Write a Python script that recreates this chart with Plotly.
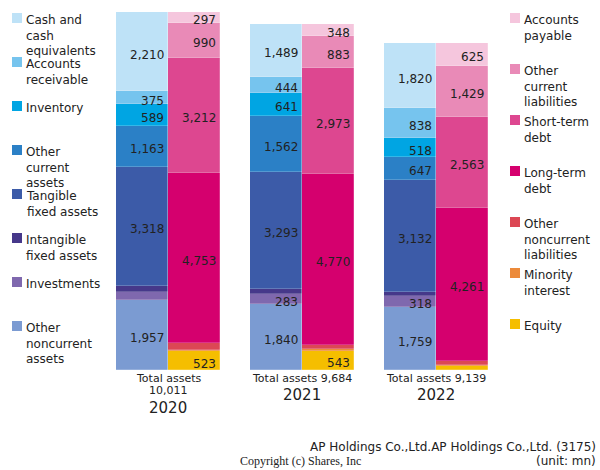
import plotly.graph_objects as go

years = ["2020", "2021", "2022"]
total_assets = [10011, 9684, 9139]

# Assets (bottom -> top)
asset_names = ["Other<br>noncurrent<br>assets", "Investments", "Intangible<br>fixed assets",
               "Tangible<br>fixed assets", "Other<br>current<br>assets", "Inventory",
               "Accounts<br>receivable", "Cash and<br>cash<br>equivalents"]
other_noncurrent_assets = [1957, 1840, 1759]
investments = [221, 283, 318]
intangible_fixed_assets = [178, 132, 107]
tangible_fixed_assets = [3318, 3293, 3132]
other_current_assets = [1163, 1562, 647]
inventory = [589, 641, 518]
accounts_receivable = [375, 444, 838]
cash = [2210, 1489, 1820]
asset_values = [other_noncurrent_assets, investments, intangible_fixed_assets,
                tangible_fixed_assets, other_current_assets, inventory,
                accounts_receivable, cash]
asset_colors = ["#7B9BD2", "#7F68AE", "#46388A", "#3C5BA8", "#2B80C6", "#00A5E3",
                "#76C4EE", "#BEE2F7"]

# Liabilities & equity (bottom -> top)
liab_names = ["Equity", "Minority<br>interest", "Other<br>noncurrent<br>liabilities",
              "Long-term<br>debt", "Short-term<br>debt", "Other<br>current<br>liabilities",
              "Accounts<br>payable"]
equity = [523, 543, 116]
minority_interest = [36, 37, 35]
other_noncurrent_liab = [200, 130, 110]
long_term_debt = [4753, 4770, 4261]
short_term_debt = [3212, 2973, 2563]
other_current_liab = [990, 883, 1429]
accounts_payable = [297, 348, 625]
liab_values = [equity, minority_interest, other_noncurrent_liab, long_term_debt,
               short_term_debt, other_current_liab, accounts_payable]
liab_colors = ["#F5BE00", "#EC8A3A", "#DC4754", "#D5006E", "#DD4790", "#E98AB7", "#F5C6DD"]

W = 600
H = 470
ML, MR, MT, MB = 101, 97, 0, 100
PW = W - ML - MR
PH = H - MT - MB
YMAX = 10347

BW = 0.388
off = BW / 2
xs = list(range(len(years)))

fig = go.Figure()
for name, vals, col in zip(asset_names, asset_values, asset_colors):
    fig.add_trace(go.Bar(x=[i - off for i in xs], y=vals, width=BW, name=name,
                         marker=dict(color=col, line=dict(width=0.4, color="rgba(255,255,255,0.5)")),
                         showlegend=False, hoverinfo="y"))
for name, vals, col in zip(liab_names, liab_values, liab_colors):
    fig.add_trace(go.Bar(x=[i + off for i in xs], y=vals, width=BW, name=name,
                         marker=dict(color=col, line=dict(width=0.4, color="rgba(255,255,255,0.5)")),
                         showlegend=False, hoverinfo="y"))

annotations = []
THRESH = 250

def add_labels(groups, xoff):
    for i in xs:
        cum = 0
        for vals in groups:
            v = vals[i]
            if v >= THRESH:
                annotations.append(dict(x=i + xoff + off, y=cum + v / 2, xref="x", yref="y",
                                        text=f"{v:,}", showarrow=False, xanchor="right",
                                        yanchor="middle", xshift=-2, yshift=-3,
                                        font=dict(size=12, color="#222", family="DejaVu Sans")))
            cum += v

add_labels(asset_values, -off)
add_labels(liab_values, off)

# category labels below the bars
for i, (yr, tot) in enumerate(zip(years, total_assets)):
    if tot >= 10000:
        lines = ["Total assets", f"{tot:,}"]
    else:
        lines = [f"Total assets {tot:,}"]
    for j, ln in enumerate(lines):
        annotations.append(dict(x=i, y=0, xref="x", yref="y", text=ln, showarrow=False,
                                xanchor="center", yanchor="middle", yshift=-8 - 12.5 * j,
                                font=dict(size=11, color="#222", family="DejaVu Sans")))
    annotations.append(dict(x=i, y=0, xref="x", yref="y", text=yr, showarrow=False,
                            xanchor="center", yanchor="middle",
                            yshift=-8 - 12.5 * (len(lines) - 1) - 17,
                            font=dict(size=15, color="#222", family="DejaVu Sans")))

def px2paper(px, py):
    return (px - ML) / PW, (H - MB - py) / PH

shapes = []
# left legend (top -> bottom)
left_items = list(zip(asset_names, asset_colors))[::-1]
for k, (name, col) in enumerate(left_items):
    top = 13 + 44 * k
    x0, y0 = px2paper(12, top)
    x1, y1 = px2paper(22, top + 10)
    shapes.append(dict(type="rect", xref="paper", yref="paper", x0=x0, x1=x1, y0=y1, y1=y0,
                       fillcolor=col, line=dict(width=0)))
    tx, ty = px2paper(24, top - 2)
    annotations.append(dict(x=tx, y=ty, xref="paper", yref="paper", text=name, showarrow=False,
                            xanchor="left", yanchor="top", align="left",
                            font=dict(size=12, color="#222", family="DejaVu Sans")))
# right legend
right_items = list(zip(liab_names, liab_colors))[::-1]
for k, (name, col) in enumerate(right_items):
    top = 13 + 51 * k
    x0, y0 = px2paper(510, top)
    x1, y1 = px2paper(520, top + 10)
    shapes.append(dict(type="rect", xref="paper", yref="paper", x0=x0, x1=x1, y0=y1, y1=y0,
                       fillcolor=col, line=dict(width=0)))
    tx, ty = px2paper(522, top - 2)
    annotations.append(dict(x=tx, y=ty, xref="paper", yref="paper", text=name, showarrow=False,
                            xanchor="left", yanchor="top", align="left",
                            font=dict(size=12, color="#222", family="DejaVu Sans")))

# footer
fx, fy = px2paper(598, 447)
annotations.append(dict(x=fx, y=fy, xref="paper", yref="paper",
                        text="AP Holdings Co.,Ltd.AP Holdings Co.,Ltd. (3175)", showarrow=False,
                        xanchor="right", yanchor="middle",
                        font=dict(size=12, color="#222", family="DejaVu Sans")))
fx, fy = px2paper(598, 461)
annotations.append(dict(x=fx, y=fy, xref="paper", yref="paper", text="(unit: mn)", showarrow=False,
                        xanchor="right", yanchor="middle",
                        font=dict(size=12, color="#222", family="DejaVu Sans")))
cx, cy = px2paper(300, 461)
annotations.append(dict(x=cx, y=cy, xref="paper", yref="paper", text="Copyright (c) Shares, Inc",
                        showarrow=False, xanchor="center", yanchor="middle",
                        font=dict(size=12, color="#222", family="Liberation Serif")))

fig.update_layout(
    width=W, height=H, barmode="stack", bargap=0,
    margin=dict(l=ML, r=MR, t=MT, b=MB, pad=0),
    paper_bgcolor="white", plot_bgcolor="white",
    xaxis=dict(range=[-0.5, 2.5], showticklabels=False, showgrid=False, zeroline=False,
               showline=False, ticks=""),
    yaxis=dict(range=[0, YMAX], showticklabels=False, showgrid=False, zeroline=False,
               showline=False, ticks=""),
    annotations=annotations, shapes=shapes, showlegend=False,
)

fig.write_html("out.html", config={"displayModeBar": False},
               post_script="document.body.style.margin='0';document.body.style.overflow='hidden';")
